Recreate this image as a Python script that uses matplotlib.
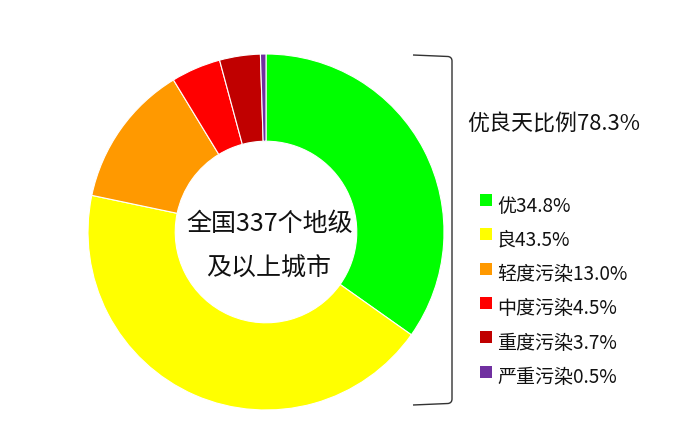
import matplotlib
matplotlib.use('Agg')
import matplotlib.pyplot as plt
from matplotlib.path import Path
from matplotlib.patches import PathPatch

plt.rcParams['font.family'] = ['Noto Sans CJK SC', 'DejaVu Sans']

# Air quality share of 337 cities
labels = ['优', '良', '轻度污染', '中度污染', '重度污染', '严重污染']
values = [34.8, 43.5, 13.0, 4.5, 3.7, 0.5]
colors = ['#00FF00', '#FFFF00', '#FF9900', '#FF0000', '#C00000', '#7030A0']
good_share = 78.3
center_lines = ['全国337个地级', '及以上城市']

W, H = 693, 442
fig = plt.figure(figsize=(W / 100, H / 100), dpi=100)
ax = fig.add_axes([0, 0, 1, 1])

cx, cy, r = 266, H - 232, 178
ax.pie(values, colors=colors, startangle=90, counterclock=False,
       center=(cx, cy), radius=r,
       wedgeprops=dict(width=r * 0.49, edgecolor='white', linewidth=0.8))
ax.set_xlim(0, W)
ax.set_ylim(0, H)
ax.set_aspect('equal')
ax.axis('off')

# text in the hole
ax.text(cx + 4, H - 224, center_lines[0], ha='center', va='center', fontsize=18, color='#111111')
ax.text(cx + 3, H - 268, center_lines[1], ha='center', va='center', fontsize=18, color='#111111')

# bracket on the right
verts = [(413, H - 55), (448, H - 56.5), (452, H - 57), (452, H - 61),
         (452, H - 399), (452, H - 403), (448, H - 403.5), (413, H - 405)]
codes = [Path.MOVETO, Path.LINETO, Path.CURVE3, Path.CURVE3,
         Path.LINETO, Path.CURVE3, Path.CURVE3, Path.LINETO]
ax.add_patch(PathPatch(Path(verts, codes), facecolor='none', edgecolor='#333333', lw=1))

ax.text(467, H - 125, '优良天比例' + str(good_share) + '%', ha='left', va='center',
        fontsize=15.8, color='#111111')

# legend
y0, step = 206, 34.3
for i, (lab, val, col) in enumerate(zip(labels, values, colors)):
    y = H - (y0 + i * step)
    ax.scatter([486], [y + 6], marker='s', s=70, color=col, linewidths=0)
    ax.text(497, y, lab + str(val) + '%', ha='left', va='center', fontsize=13.7, color='#111111')

fig.savefig('out.png', dpi=100)
